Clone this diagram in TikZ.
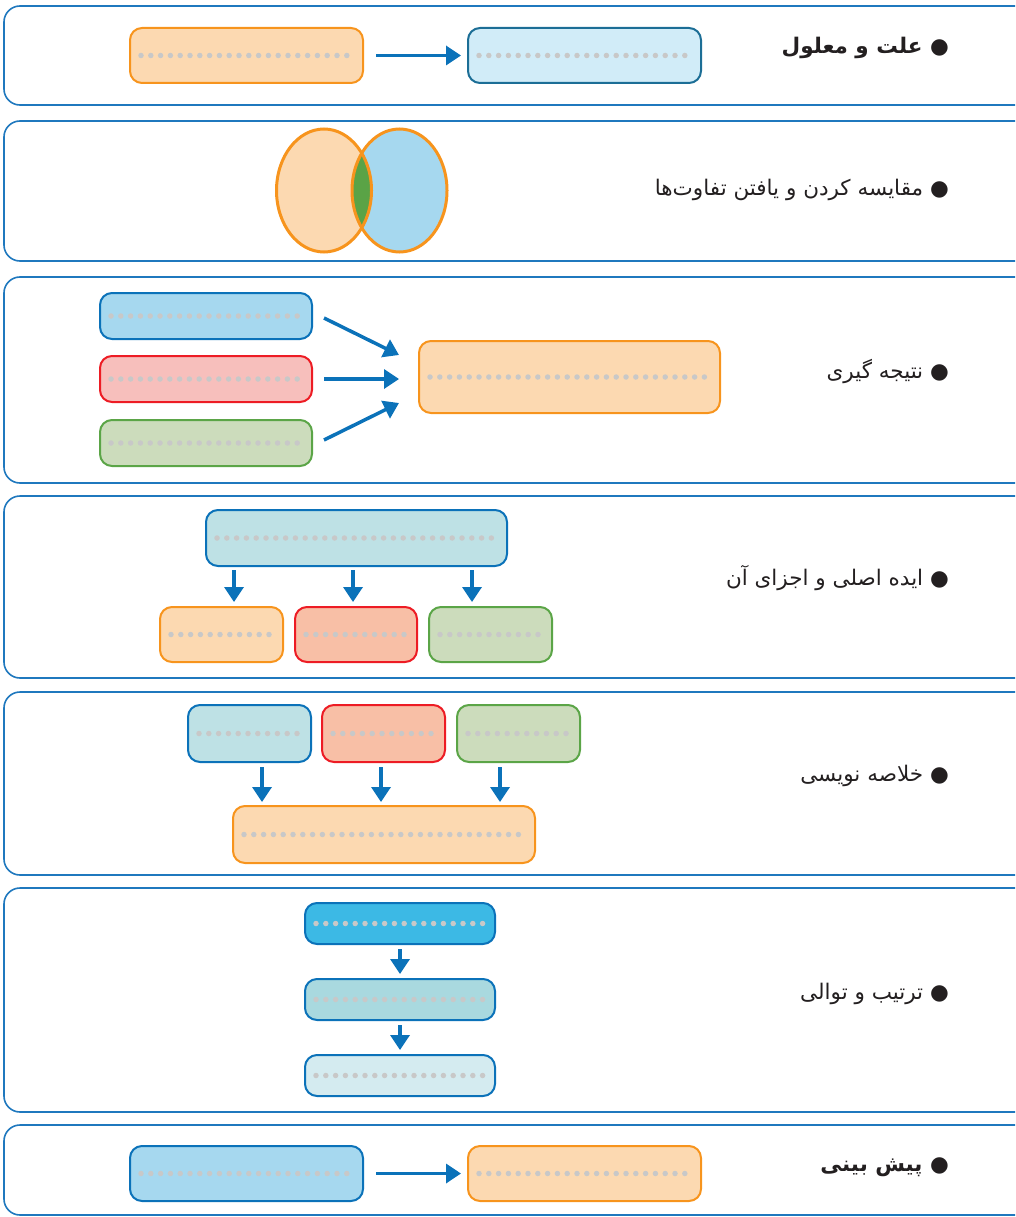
\documentclass[tikz,border=0pt]{standalone}
\usepackage{fontspec}
\newfontfamily\arabicfont[Script=Arabic]{DejaVu Sans}
\TeXXeTstate=1
\usetikzlibrary{arrows.meta}
\definecolor{frameBlue}{HTML}{1F78BE}
\definecolor{arrowBlue}{HTML}{0B72B9}
\definecolor{peach}{HTML}{FCD9B1}
\definecolor{orangeLine}{HTML}{F7941D}
\definecolor{skyFill}{HTML}{A6D8EF}
\definecolor{paleSky}{HTML}{D1ECF8}
\definecolor{darkTeal}{HTML}{1C6E96}
\definecolor{pinkFill}{HTML}{F7BFBC}
\definecolor{salmon}{HTML}{F8BFA6}
\definecolor{redLine}{HTML}{ED1C24}
\definecolor{sageFill}{HTML}{CCDCBC}
\definecolor{greenLine}{HTML}{5BA547}
\definecolor{tealFill}{HTML}{BEE1E5}
\definecolor{cyanFill}{HTML}{3CB9E5}
\definecolor{midTeal}{HTML}{A9D9DF}
\definecolor{paleTeal}{HTML}{D4EBF0}
\definecolor{vennGreen}{HTML}{5AA346}
\definecolor{dotGray}{HTML}{C8C8C8}
\definecolor{ink}{HTML}{231F20}
\newcommand\dotrow[1]{\draw[dotline] ([xshift=12pt]#1.west) -- ([xshift=-10pt]#1.east);}
\begin{document}
\begin{tikzpicture}[x=1pt,y=-1pt,
  frame/.style={draw=frameBlue, line width=1.6pt, rounded corners=16pt},
  box/.style={draw, line width=2pt, rounded corners=12pt, inner sep=0pt},
  orangebox/.style={box, fill=peach, draw=orangeLine},
  skybox/.style={box, fill=skyFill, draw=arrowBlue},
  redbox/.style={box, fill=pinkFill, draw=redLine},
  salmonbox/.style={box, fill=salmon, draw=redLine},
  greenbox/.style={box, fill=sageFill, draw=greenLine},
  tealbox/.style={box, fill=tealFill, draw=arrowBlue},
  dotline/.style={draw=dotGray, line width=5.5pt, line cap=round, dash pattern=on 0pt off 9.8pt},
  arr/.style={draw=arrowBlue, line width=3.5pt, -{Triangle[length=15pt,width=19pt]}},
  title/.style={anchor=east, text=ink, inner sep=0pt, font=\arabicfont\fontsize{21.5}{25}\selectfont}]
\useasboundingbox (0,0) rectangle (1015,1217);
\clip (0,0) rectangle (1015,1217);

% frames
\draw[frame] (4,6) rectangle (1040,105);
\draw[frame] (4,121) rectangle (1040,261);
\draw[frame] (4,277) rectangle (1040,483);
\draw[frame] (4,496) rectangle (1040,678);
\draw[frame] (4,692) rectangle (1040,875);
\draw[frame] (4,888) rectangle (1040,1112);
\draw[frame] (4,1125) rectangle (1040,1215);

% cause and effect
\node[orangebox, minimum width=233, minimum height=55] (cause) at (246.5,55.5) {};
\node[box, fill=paleSky, draw=darkTeal, minimum width=233, minimum height=55] (effect) at (584.5,55.5) {};
\dotrow{cause} \dotrow{effect}
\draw[arr, shorten <=12pt, shorten >=6pt] (cause) -- (effect);
\node[title] (t1) at (949,48) {\bfseries\beginR ● علت و معلول\endR};

% compare
\fill[peach] (324,190.5) ellipse [x radius=47.5, y radius=61.5];
\fill[skyFill] (399.5,190.5) ellipse [x radius=47.5, y radius=61.5];
\begin{scope}
  \clip (324,190.5) ellipse [x radius=47.5, y radius=61.5];
  \fill[vennGreen] (399.5,190.5) ellipse [x radius=47.5, y radius=61.5];
\end{scope}
\draw[orangeLine, line width=3pt] (324,190.5) ellipse [x radius=47.5, y radius=61.5];
\draw[orangeLine, line width=3pt] (399.5,190.5) ellipse [x radius=47.5, y radius=61.5];
\node[title] (t2) at (949,190) {\beginR ● مقایسه کردن و یافتن تفاوت‌ها\endR};

% conclusion
\node[skybox, minimum width=212, minimum height=46] (premA) at (206,316) {};
\node[redbox, minimum width=212, minimum height=46] (premB) at (206,379) {};
\node[greenbox, minimum width=212, minimum height=46] (premC) at (206,443) {};
\node[orangebox, minimum width=301, minimum height=72] (result) at (569.5,377) {};
\dotrow{premA} \dotrow{premB} \dotrow{premC} \dotrow{result}
\draw[arr] ([xshift=11pt,yshift=-2pt]premA.east) -- ([xshift=-19pt,yshift=22pt]result.west);
\draw[arr] ([xshift=11pt]premB.east) -- ([xshift=-19pt,yshift=-2pt]result.west);
\draw[arr] ([xshift=11pt,yshift=3pt]premC.east) -- ([xshift=-19pt,yshift=-26pt]result.west);
\node[title] (t3) at (949,371) {\beginR ● نتیجه گیری\endR};

% main idea and its parts
\node[tealbox, minimum width=301, minimum height=56] (idea) at (356.5,538) {};
\node[orangebox, minimum width=123, minimum height=55] (partA) at (221.5,634.5) {};
\node[salmonbox, minimum width=122, minimum height=55] (partB) at (356,634.5) {};
\node[greenbox, minimum width=123, minimum height=55] (partC) at (490.5,634.5) {};
\dotrow{idea} \dotrow{partA} \dotrow{partB} \dotrow{partC}
\coordinate (pA) at ([xshift=12.5pt]partA.north);
\coordinate (pB) at ([xshift=-3pt]partB.north);
\coordinate (pC) at ([xshift=-18.5pt]partC.north);
\draw[arr, shorten <=3pt, shorten >=4pt] (idea.south -| pA) -- (pA);
\draw[arr, shorten <=3pt, shorten >=4pt] (idea.south -| pB) -- (pB);
\draw[arr, shorten <=3pt, shorten >=4pt] (idea.south -| pC) -- (pC);
\node[title] (t4) at (949,578) {\beginR ● ایده اصلی و اجزای آن\endR};

% summary
\node[tealbox, minimum width=123, minimum height=57] (noteA) at (249.5,733.5) {};
\node[salmonbox, minimum width=123, minimum height=57] (noteB) at (383.5,733.5) {};
\node[greenbox, minimum width=123, minimum height=57] (noteC) at (518.5,733.5) {};
\node[orangebox, minimum width=302, minimum height=57] (summary) at (384,834.5) {};
\dotrow{noteA} \dotrow{noteB} \dotrow{noteC} \dotrow{summary}
\coordinate (sA) at ([xshift=12.5pt]noteA.south);
\coordinate (sB) at ([xshift=-2.5pt]noteB.south);
\coordinate (sC) at ([xshift=-18.5pt]noteC.south);
\draw[arr, shorten <=4pt, shorten >=3pt] (sA) -- (sA |- summary.north);
\draw[arr, shorten <=4pt, shorten >=3pt] (sB) -- (sB |- summary.north);
\draw[arr, shorten <=4pt, shorten >=3pt] (sC) -- (sC |- summary.north);
\node[title] (t5) at (949,776) {\beginR ● خلاصه نویسی\endR};

% sequence
\node[box, fill=cyanFill, draw=arrowBlue, minimum width=190, minimum height=41] (stepA) at (400,923.5) {};
\node[box, fill=midTeal, draw=arrowBlue, minimum width=190, minimum height=41] (stepB) at (400,999.5) {};
\node[box, fill=paleTeal, draw=arrowBlue, minimum width=190, minimum height=41] (stepC) at (400,1075.5) {};
\dotrow{stepA} \dotrow{stepB} \dotrow{stepC}
\draw[arr, shorten <=4pt, shorten >=4pt] (stepA) -- (stepB);
\draw[arr, shorten <=4pt, shorten >=4pt] (stepB) -- (stepC);
\node[title] (t6) at (949,994) {\beginR ● ترتیب و توالی\endR};

% prediction
\node[skybox, minimum width=233, minimum height=55] (now) at (246.5,1173.5) {};
\node[orangebox, minimum width=233, minimum height=55] (later) at (584.5,1173.5) {};
\dotrow{now} \dotrow{later}
\draw[arr, shorten <=12pt, shorten >=6pt] (now) -- (later);
\node[title] (t7) at (949,1167) {\bfseries\beginR ● پیش بینی\endR};
\end{tikzpicture}
\end{document}
